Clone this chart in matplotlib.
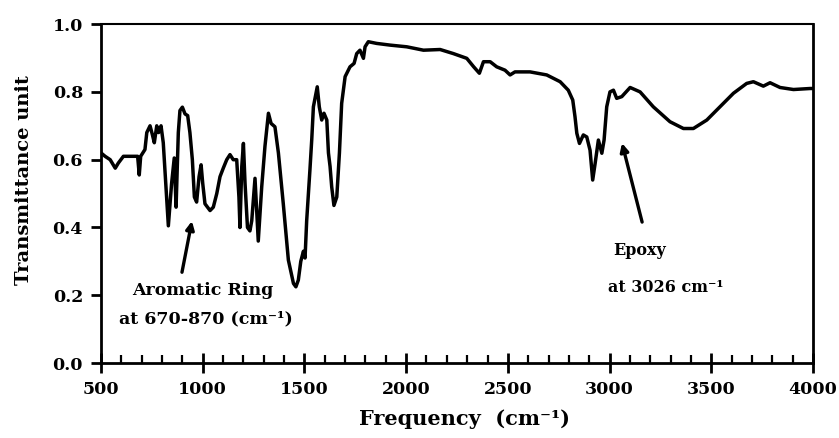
import matplotlib
matplotlib.use("Agg")
import matplotlib.pyplot as plt
from matplotlib.ticker import MultipleLocator

plt.rcParams['font.family'] = ['DejaVu Serif', 'DejaVu Sans']
plt.rcParams['font.weight'] = 'bold'

# FTIR spectrum: wavenumber (cm-1) and transmittance
wavenumber = [500, 520, 545, 570, 585, 610, 650, 680, 688, 695, 716, 725, 741, 752, 762,
              774, 783, 795, 806, 823, 831, 847, 860, 869, 880, 888, 900, 913, 926, 937,
              949, 959, 970, 982, 992, 1000, 1011, 1036, 1052, 1069, 1085, 1101, 1118,
              1134, 1150, 1167, 1178, 1183, 1192, 1200, 1208, 1220, 1232, 1241, 1257,
              1273, 1290, 1306, 1323, 1336, 1355, 1372, 1396, 1421, 1446, 1458, 1470,
              1482, 1495, 1503, 1511, 1527, 1536, 1544, 1563, 1573, 1585, 1596, 1610,
              1618, 1626, 1634, 1645, 1659, 1672, 1683, 1700, 1724, 1744, 1757, 1773,
              1790, 1798, 1814, 1855, 1921, 2003, 2085, 2167, 2232, 2298, 2332, 2360,
              2380, 2413, 2445, 2486, 2511, 2535, 2609, 2691, 2757, 2797, 2819, 2830,
              2839, 2852, 2871, 2888, 2904, 2917, 2929, 2945, 2962, 2973, 2986, 3002,
              3019, 3035, 3060, 3101, 3150, 3215, 3297, 3363, 3412, 3478, 3543, 3609,
              3674, 3707, 3756, 3789, 3838, 3904, 3986, 4000]
transmittance = [0.62, 0.61, 0.60, 0.575, 0.59, 0.61, 0.61, 0.61, 0.555, 0.61, 0.63, 0.68,
                 0.70, 0.675, 0.65, 0.70, 0.68, 0.70, 0.65, 0.48, 0.405, 0.53, 0.605, 0.46,
                 0.68, 0.745, 0.755, 0.735, 0.73, 0.68, 0.60, 0.49, 0.475, 0.55, 0.585,
                 0.53, 0.47, 0.45, 0.46, 0.50, 0.55, 0.575, 0.60, 0.615, 0.60, 0.60, 0.49,
                 0.40, 0.58, 0.648, 0.53, 0.40, 0.39, 0.42, 0.545, 0.36, 0.52, 0.64, 0.737,
                 0.707, 0.697, 0.62, 0.47, 0.304, 0.235, 0.225, 0.245, 0.30, 0.33, 0.31,
                 0.42, 0.57, 0.66, 0.756, 0.815, 0.756, 0.717, 0.737, 0.717, 0.62, 0.58,
                 0.52, 0.465, 0.49, 0.62, 0.766, 0.845, 0.874, 0.884, 0.913, 0.923, 0.899,
                 0.933, 0.948, 0.943, 0.938, 0.933, 0.923, 0.925, 0.913, 0.899, 0.874,
                 0.855, 0.889, 0.889, 0.874, 0.864, 0.85, 0.859, 0.859, 0.85, 0.83, 0.805,
                 0.776, 0.727, 0.678, 0.648, 0.673, 0.667, 0.628, 0.54, 0.589, 0.658,
                 0.619, 0.658, 0.756, 0.80, 0.805, 0.781, 0.786, 0.813, 0.80, 0.756, 0.712,
                 0.692, 0.692, 0.717, 0.756, 0.796, 0.825, 0.83, 0.817, 0.827, 0.813,
                 0.807, 0.81, 0.81]

x_ticks = [500, 1000, 1500, 2000, 2500, 3000, 3500, 4000]
y_ticks = [0.0, 0.2, 0.4, 0.6, 0.8, 1.0]

fig = plt.figure(figsize=(8.39, 4.38), dpi=100)
ax = fig.add_axes([0.1204, 0.171, 0.8486, 0.774])

ax.plot(wavenumber, transmittance, color='black', lw=2.5, solid_joinstyle='round')

ax.set_xlim(500, 4000)
ax.set_ylim(0.0, 1.0)
ax.set_xticks(x_ticks)
ax.set_xticklabels([str(v) for v in x_ticks])
ax.set_yticks(y_ticks)
ax.set_yticklabels([f"{v:.1f}" for v in y_ticks])
ax.xaxis.set_minor_locator(MultipleLocator(100))

ax.tick_params(axis='x', which='major', direction='inout', length=14, width=2,
               labelsize=12.5, pad=6)
ax.tick_params(axis='x', which='minor', direction='in', length=6, width=1.6)
ax.tick_params(axis='y', which='major', direction='out', length=7, width=2,
               labelsize=12.5, pad=6)
for side in ['left', 'bottom', 'right']:
    ax.spines[side].set_linewidth(2.0)
ax.spines['top'].set_linewidth(1.5)

ax.set_xlabel("Frequency  (cm⁻¹)", fontsize=15, fontweight='bold')
ax.xaxis.set_label_coords(0.51, -0.135)
ax.set_ylabel("Transmittance unit", fontsize=14, fontweight='bold')
ax.yaxis.set_label_coords(-0.096, 0.54)

arrow = dict(arrowstyle='-|>', color='black', lw=2.4, mutation_scale=12,
             shrinkA=0, shrinkB=0)
ax.annotate("", xy=(947, 0.419), xytext=(898, 0.268), arrowprops=arrow)
ax.annotate("", xy=(3061, 0.649), xytext=(3160, 0.416), arrowprops=arrow)

ax.text(1001, 0.215, "Aromatic Ring", ha='center', va='center', fontsize=12.5,
        fontweight='bold')
ax.text(1016, 0.13, "at 670-870 (cm⁻¹)", ha='center', va='center', fontsize=12.5,
        fontweight='bold')
ax.text(3150, 0.333, "Epoxy", ha='center', va='center', fontsize=11.5,
        fontweight='bold')
ax.text(3278, 0.224, "at 3026 cm⁻¹", ha='center', va='center', fontsize=11.5,
        fontweight='bold')

fig.savefig("out.png", dpi=100)
